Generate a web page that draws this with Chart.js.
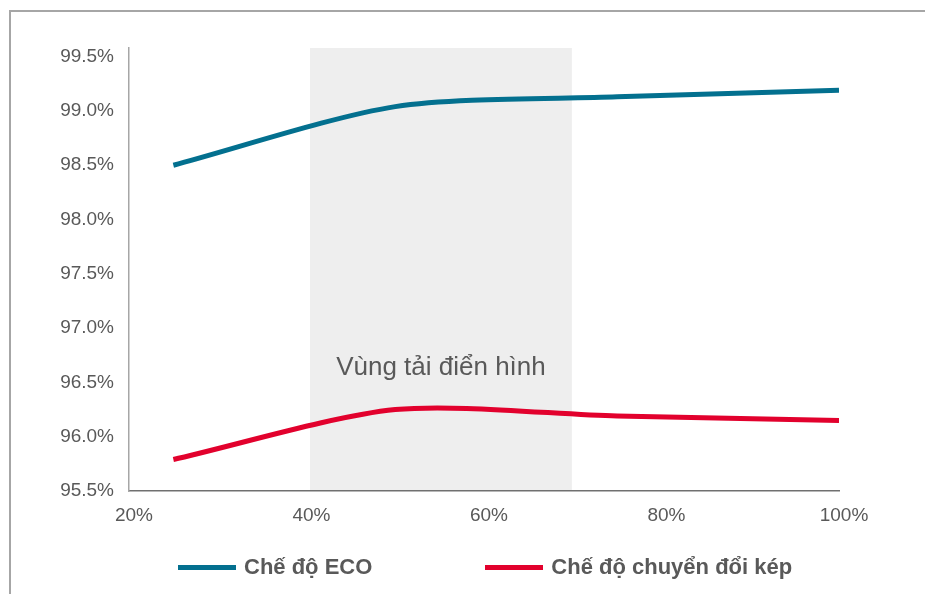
<!DOCTYPE html>
<html lang="vi">
<head>
<meta charset="utf-8">
<title>Hiệu suất theo tải</title>
<script src="https://cdn.jsdelivr.net/npm/chart.js@4/dist/chart.umd.min.js"></script>
<style>
  html, body { margin: 0; padding: 0; background: #fff; }
  #wrap { position: relative; width: 925px; height: 594px; overflow: hidden; }
  #frame { position: absolute; left: 9px; top: 10px; right: -4px; bottom: -4px;
           border-left: 2px solid #a6a6a6; border-top: 2px solid #a6a6a6; pointer-events: none; }
  canvas { position: absolute; left: 0; top: 0; }
  #legend { position: absolute; left: 178px; top: 554px; display: flex; gap: 113px;
            font: bold 22px "Liberation Sans", Arial, sans-serif; color: #595959; line-height: 26px; }
  #legend .item { display: flex; align-items: center; white-space: nowrap; }
  #legend .swatch { width: 58px; height: 5px; margin-right: 8px; }
</style>
</head>
<body>
<div id="wrap">
  <div id="frame"></div>
  <canvas id="chart" width="925" height="594"></canvas>
  <div id="legend"></div>
</div>
<script>
"use strict";

// ---------- Data ----------
const loadPct = [25, 50, 75, 100];
const ecoEff = [98.5, 99.04, 99.13, 99.19];
const dualEff = [95.79, 96.25, 96.19, 96.15];
const xTicks = [20, 40, 60, 80, 100];
const yTicks = [95.5, 96.0, 96.5, 97.0, 97.5, 98.0, 98.5, 99.0, 99.5];
const typicalZone = [40.4, 69.9];
const zoneLabel = "Vùng tải điển hình";
const zoneLabelY = 96.63;

const series = [
  { label: "Chế độ ECO", data: ecoEff, color: "#03708f" },
  { label: "Chế độ chuyển đổi kép", data: dualEff, color: "#e2012d" },
];

const TEXT = "#595959";
const FONT = '"Liberation Sans", Arial, sans-serif';

// shaded "typical load" band + its caption, painted under axes and lines
const zonePlugin = {
  id: "zone",
  beforeDraw(chart) {
    const { ctx, chartArea, scales } = chart;
    const x0 = scales.x.getPixelForValue(typicalZone[0]);
    const x1 = scales.x.getPixelForValue(typicalZone[1]);
    ctx.save();
    ctx.fillStyle = "#eeeeee";
    ctx.fillRect(x0, chartArea.top, x1 - x0, chartArea.bottom - chartArea.top);
    ctx.fillStyle = TEXT;
    ctx.font = `26px ${FONT}`;
    ctx.textAlign = "center";
    ctx.textBaseline = "middle";
    ctx.fillText(zoneLabel, (x0 + x1) / 2, scales.y.getPixelForValue(zoneLabelY));
    ctx.restore();
  },
};

const chart = new Chart(document.getElementById("chart"), {
  type: "line",
  data: {
    datasets: series.map((s) => ({
      label: s.label,
      data: loadPct.map((x, i) => ({ x, y: s.data[i] })),
      borderColor: s.color,
      backgroundColor: s.color,
      borderWidth: 5,
      pointRadius: 0,
      tension: 0.27,
      fill: false,
    })),
  },
  options: {
    responsive: false,
    animation: false,
    devicePixelRatio: 1,
    layout: { padding: { left: 0, right: 86, top: 48, bottom: 0 } },
    plugins: { legend: { display: false }, tooltip: { enabled: false } },
    scales: {
      x: {
        type: "linear",
        min: 20,
        max: 100,
        afterFit: (s) => { s.height = 103; },
        afterBuildTicks: (s) => { s.ticks = xTicks.map((v) => ({ value: v })); },
        grid: { display: false, drawTicks: false },
        border: { color: "#707070", width: 1.5 },
        ticks: { color: TEXT, font: { family: FONT, size: 19, lineHeight: 1.2 }, padding: 13, labelOffset: 5,
                 maxRotation: 0, callback: (v) => `${v}%` },
      },
      y: {
        min: 95.5,
        max: 99.58,
        afterFit: (s) => { s.width = 129; },
        afterBuildTicks: (s) => { s.ticks = yTicks.map((v) => ({ value: v })); },
        grid: { display: false, drawTicks: false },
        border: { color: "#a6a6a6", width: 1.5 },
        ticks: { color: TEXT, font: { family: FONT, size: 19 }, padding: 15, callback: (v) => `${v.toFixed(1)}%` },
      },
    },
  },
  plugins: [zonePlugin],
});

// ---------- Legend ----------
document.getElementById("legend").innerHTML = chart.data.datasets.map((d) => `
  <div class="item"><span class="swatch" style="background:${d.borderColor}"></span>${d.label}</div>`).join("");
</script>
</body>
</html>
